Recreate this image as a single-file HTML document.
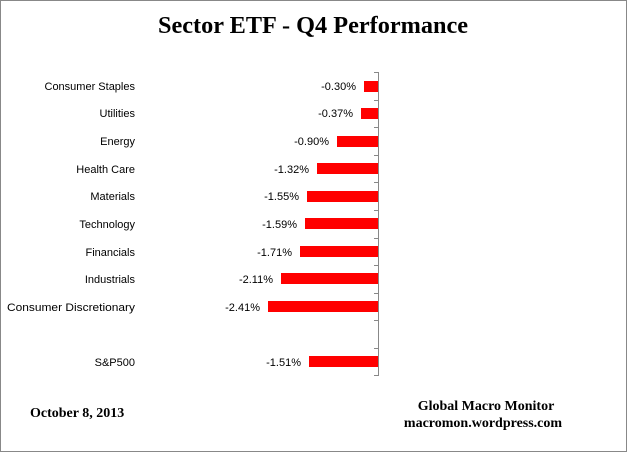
<!DOCTYPE html><html><head><style>body{margin:0}</style></head><body>
<svg width="628" height="453" xmlns="http://www.w3.org/2000/svg" style="display:block">
<rect x="0.5" y="0.5" width="626" height="451" fill="#fff" stroke="#888"/>
<text x="313" y="33" text-anchor="middle" font-family="Liberation Serif, serif" font-weight="bold" font-size="24" textLength="310" lengthAdjust="spacingAndGlyphs">Sector ETF - Q4  Performance</text>
<g font-family="Liberation Sans, sans-serif" font-size="11" fill="#000">
<line x1="378.5" y1="72" x2="378.5" y2="376" stroke="#888"/>
<g stroke="#888">
<line x1="374" y1="72.5" x2="378" y2="72.5"/><line x1="374" y1="100.5" x2="378" y2="100.5"/><line x1="374" y1="127.5" x2="378" y2="127.5"/><line x1="374" y1="155.5" x2="378" y2="155.5"/><line x1="374" y1="182.5" x2="378" y2="182.5"/><line x1="374" y1="210.5" x2="378" y2="210.5"/><line x1="374" y1="238.5" x2="378" y2="238.5"/><line x1="374" y1="265.5" x2="378" y2="265.5"/><line x1="374" y1="293.5" x2="378" y2="293.5"/><line x1="374" y1="320.5" x2="378" y2="320.5"/><line x1="374" y1="348.5" x2="378" y2="348.5"/><line x1="374" y1="375.5" x2="378" y2="375.5"/>
</g>
<g fill="#f00">
<rect x="364" y="81" width="14" height="11"/>
<rect x="361" y="108" width="17" height="11"/>
<rect x="337" y="136" width="41" height="11"/>
<rect x="317" y="163" width="61" height="11"/>
<rect x="307" y="191" width="71" height="11"/>
<rect x="305" y="218" width="73" height="11"/>
<rect x="300" y="246" width="78" height="11"/>
<rect x="281" y="273" width="97" height="11"/>
<rect x="268" y="301" width="110" height="11"/>
<rect x="309" y="356" width="69" height="11"/>
</g>
<g text-anchor="end">
<text x="135" y="90">Consumer Staples</text>
<text x="135" y="117">Utilities</text>
<text x="135" y="145">Energy</text>
<text x="135" y="173">Health Care</text>
<text x="135" y="200">Materials</text>
<text x="135" y="228">Technology</text>
<text x="135" y="256">Financials</text>
<text x="135" y="283">Industrials</text>
<text x="135" y="311" textLength="128" lengthAdjust="spacingAndGlyphs">Consumer Discretionary</text>
<text x="135" y="366">S&amp;P500</text>
<text x="356" y="90">-0.30%</text>
<text x="353" y="117">-0.37%</text>
<text x="329" y="145">-0.90%</text>
<text x="309" y="173">-1.32%</text>
<text x="299" y="200">-1.55%</text>
<text x="297" y="228">-1.59%</text>
<text x="292" y="256">-1.71%</text>
<text x="273" y="283">-2.11%</text>
<text x="260" y="311">-2.41%</text>
<text x="301" y="366">-1.51%</text>
</g>
</g>
<g font-family="Liberation Serif, serif" font-weight="bold" font-size="14">
<text x="30" y="417">October 8, 2013</text>
<text x="486" y="410" text-anchor="middle">Global Macro Monitor</text>
<text x="483" y="427" text-anchor="middle">macromon.wordpress.com</text>
</g>
</svg>
</body></html>
